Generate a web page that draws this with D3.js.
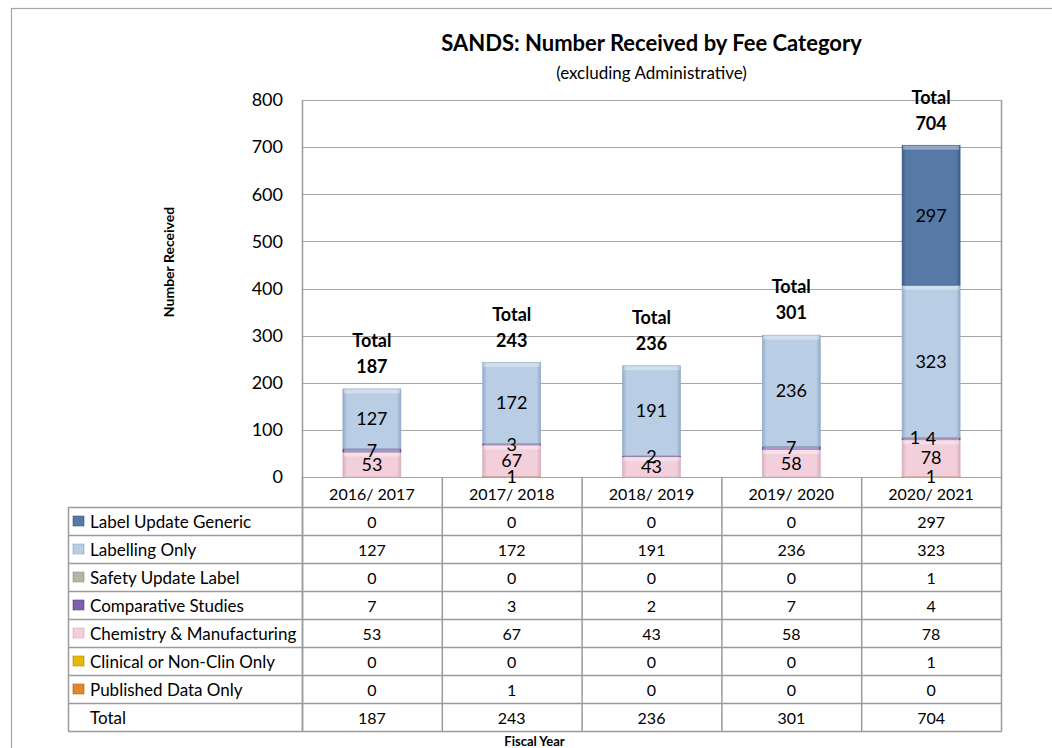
<!DOCTYPE html>
<html>
<head>
<meta charset="utf-8">
<script src="https://cdn.jsdelivr.net/npm/d3@7"></script>
<style>
  body { margin: 0; background: #fff; }
  svg { font-family: Lato, "Open Sans", sans-serif; }
</style>
</head>
<body>
<svg id="chart" width="1052" height="748"></svg>
<script>
// fiscal years on the x axis
var years = ['2016/ 2017', '2017/ 2018', '2018/ 2019', '2019/ 2020', '2020/ 2021'];

// series values, one array per fee category
var labelUpdateGeneric = [0, 0, 0, 0, 297];
var labellingOnly = [127, 172, 191, 236, 323];
var safetyUpdateLabel = [0, 0, 0, 0, 1];
var comparativeStudies = [7, 3, 2, 7, 4];
var chemistryManufacturing = [53, 67, 43, 58, 78];
var clinicalOnly = [0, 0, 0, 0, 1];
var publishedDataOnly = [0, 1, 0, 0, 0];
var totals = [187, 243, 236, 301, 704];

var yTicks = [0, 100, 200, 300, 400, 500, 600, 700, 800];

// table order (top to bottom); bars stack in reverse
var series = [
  {name: 'Label Update Generic', values: labelUpdateGeneric, color: '#5679a6', edge: '#3e5d86'},
  {name: 'Labelling Only', values: labellingOnly, color: '#b9cde5', edge: '#91a9c8'},
  {name: 'Safety Update Label', values: safetyUpdateLabel, color: '#b0b9a7', edge: '#8e9886'},
  {name: 'Comparative Studies', values: comparativeStudies, color: '#7f60a9', edge: '#5f4488'},
  {name: 'Chemistry & Manufacturing', values: chemistryManufacturing, color: '#f2cfda', edge: '#d8aebc'},
  {name: 'Clinical or Non-Clin Only', values: clinicalOnly, color: '#e7b90b', edge: '#b48f00'},
  {name: 'Published Data Only', values: publishedDataOnly, color: '#e2882b', edge: '#b0651a'}
];
var stackOrder = series.slice().reverse();

var svg = d3.select('#chart');
var plotLeft = 302, plotRight = 1001, plotTop = 100, plotBottom = 477;
var tableTop = 507, rowH = 28, legendLeft = 68;

// outer chart border
svg.append('rect')
  .attr('x', 11.5).attr('y', 8.5)
  .attr('width', 1100).attr('height', 800)
  .attr('fill', 'none').attr('stroke', '#a6a6a6').attr('stroke-width', 1.2);

var x = d3.scaleBand().domain(years).range([plotLeft, plotRight]).padding(0);
var y = d3.scaleLinear().domain([0, 800]).range([plotBottom, plotTop]);
var barW = x.bandwidth() * 0.415;

// gradients for the bevelled look
var defs = svg.append('defs');
series.forEach(function(s, i) {
  var g = defs.append('linearGradient').attr('id', 'grad' + i)
    .attr('x1', 0).attr('x2', 1).attr('y1', 0).attr('y2', 0);
  g.append('stop').attr('offset', '0%').attr('stop-color', s.edge);
  g.append('stop').attr('offset', '7%').attr('stop-color', s.color);
  g.append('stop').attr('offset', '93%').attr('stop-color', s.color);
  g.append('stop').attr('offset', '100%').attr('stop-color', s.edge);
});

// gridlines
svg.append('g').selectAll('line')
  .data(yTicks)
  .enter().append('line')
  .attr('x1', plotLeft).attr('x2', plotRight)
  .attr('y1', function(d) { return Math.round(y(d)) + 0.5; })
  .attr('y2', function(d) { return Math.round(y(d)) + 0.5; })
  .attr('stroke', '#a6a6a6').attr('stroke-width', 1);

// y tick labels
svg.append('g').selectAll('text')
  .data(yTicks)
  .enter().append('text')
  .attr('x', 283)
  .attr('y', function(d) { return y(d); })
  .attr('dy', '0.35em')
  .attr('text-anchor', 'end')
  .attr('font-size', 18)
  .text(function(d) { return d; });

// stacked bars
var stackData = years.map(function(yr, j) {
  var row = {year: yr};
  stackOrder.forEach(function(s) { row[s.name] = s.values[j]; });
  return row;
});
var stacked = d3.stack().keys(stackOrder.map(function(s) { return s.name; }))(stackData);

var barG = svg.append('g');
stacked.forEach(function(layer, k) {
  var s = stackOrder[k];
  var gi = series.indexOf(s);
  layer.forEach(function(seg) {
    var h = y(seg[0]) - y(seg[1]);
    if (h <= 0) return;
    var bx = x(seg.data.year) + (x.bandwidth() - barW) / 2;
    barG.append('rect')
      .attr('x', bx).attr('y', y(seg[1]))
      .attr('width', barW).attr('height', h)
      .attr('fill', 'url(#grad' + gi + ')')
      .attr('stroke', s.edge).attr('stroke-width', 0.6);
    barG.append('rect')
      .attr('x', bx + 1).attr('y', y(seg[1]) + 0.5)
      .attr('width', barW - 2).attr('height', Math.min(4, h))
      .attr('fill', '#fff').attr('opacity', 0.35);
  });
});

// segment value labels
var labelG = svg.append('g');
years.forEach(function(yr, j) {
  var cx = x(yr) + x.bandwidth() / 2;
  var prevY = null;
  stacked.forEach(function(layer) {
    var seg = layer[j];
    var v = seg[1] - seg[0];
    if (v <= 0) return;
    var ly = y((seg[0] + seg[1]) / 2);
    var lx = cx;
    if (prevY !== null && Math.abs(prevY - ly) < 6) lx = cx - 16;
    labelG.append('text')
      .attr('x', lx).attr('y', ly).attr('dy', '0.35em')
      .attr('text-anchor', 'middle').attr('font-size', 18)
      .text(v);
    prevY = ly;
  });
  // total label above bar
  var top = y(totals[j]);
  labelG.append('text')
    .attr('x', cx).attr('y', top - 48).attr('dy', '0.35em')
    .attr('text-anchor', 'middle').attr('font-size', 18).attr('font-weight', 'bold')
    .text('Total');
  labelG.append('text')
    .attr('x', cx).attr('y', top - 22).attr('dy', '0.35em')
    .attr('text-anchor', 'middle').attr('font-size', 18).attr('font-weight', 'bold')
    .text(totals[j]);
});

// data table
var tableG = svg.append('g');
var lineColor = '#9a9a9a';
var nRows = series.length + 1;
var tableBottom = tableTop + nRows * rowH;

// header row verticals and plot edges
x.domain().forEach(function(yr) {
  tableG.append('line')
    .attr('x1', x(yr) + 0.5).attr('x2', x(yr) + 0.5)
    .attr('y1', plotBottom).attr('y2', tableBottom)
    .attr('stroke', lineColor).attr('stroke-width', 1.5);
});
tableG.append('line')
  .attr('x1', plotLeft + 0.5).attr('x2', plotLeft + 0.5)
  .attr('y1', plotTop).attr('y2', tableBottom)
  .attr('stroke', lineColor).attr('stroke-width', 1.5);
tableG.append('line')
  .attr('x1', plotRight + 0.5).attr('x2', plotRight + 0.5)
  .attr('y1', plotTop).attr('y2', tableBottom)
  .attr('stroke', lineColor).attr('stroke-width', 1.5);
tableG.append('line')
  .attr('x1', legendLeft + 0.5).attr('x2', legendLeft + 0.5)
  .attr('y1', tableTop).attr('y2', tableBottom)
  .attr('stroke', lineColor).attr('stroke-width', 1.5);
d3.range(nRows + 1).forEach(function(r) {
  tableG.append('line')
    .attr('x1', legendLeft).attr('x2', plotRight + 1)
    .attr('y1', tableTop + r * rowH + 0.5).attr('y2', tableTop + r * rowH + 0.5)
    .attr('stroke', lineColor).attr('stroke-width', 1.5);
});

// category labels
tableG.selectAll('.cat')
  .data(years)
  .enter().append('text')
  .attr('class', 'cat')
  .attr('x', function(d) { return x(d) + x.bandwidth() / 2; })
  .attr('y', (plotBottom + tableTop) / 2 + 2).attr('dy', '0.35em')
  .attr('text-anchor', 'middle').attr('font-size', 16)
  .text(function(d) { return d; });

// rows
var rows = series.map(function(s, i) { return {name: s.name, values: s.values, gi: i}; });
rows.push({name: 'Total', values: totals, gi: -1});
rows.forEach(function(r, i) {
  var cy = tableTop + i * rowH + rowH / 2 + 1;
  if (r.gi >= 0) {
    tableG.append('rect')
      .attr('x', 73).attr('y', cy - 6)
      .attr('width', 11).attr('height', 10)
      .attr('fill', 'url(#grad' + r.gi + ')')
      .attr('stroke', series[r.gi].edge).attr('stroke-width', 0.6);
  }
  tableG.append('text')
    .attr('x', 90).attr('y', cy).attr('dy', '0.35em')
    .attr('font-size', 17)
    .text(r.name);
  r.values.forEach(function(v, j) {
    tableG.append('text')
      .attr('x', x(years[j]) + x.bandwidth() / 2).attr('y', cy).attr('dy', '0.35em')
      .attr('text-anchor', 'middle').attr('font-size', 16)
      .text(v);
  });
});

// titles
var titleX = (plotLeft + plotRight) / 2;
svg.append('text')
  .attr('x', titleX).attr('y', 43).attr('dy', '0.35em')
  .attr('text-anchor', 'middle').attr('font-size', 22).attr('font-weight', 'bold')
  .text('SANDS: Number Received by Fee Category');
svg.append('text')
  .attr('x', titleX).attr('y', 73).attr('dy', '0.35em')
  .attr('text-anchor', 'middle').attr('font-size', 17)
  .text('(excluding Administrative)');

svg.append('text')
  .attr('transform', 'translate(169,262) rotate(-90)')
  .attr('dy', '0.35em')
  .attr('text-anchor', 'middle').attr('font-size', 14).attr('font-weight', 'bold')
  .text('Number Received');

svg.append('text')
  .attr('x', (legendLeft + plotRight) / 2).attr('y', 741).attr('dy', '0.35em')
  .attr('text-anchor', 'middle').attr('font-size', 13).attr('font-weight', 'bold')
  .text('Fiscal Year');
</script>
</body>
</html>
